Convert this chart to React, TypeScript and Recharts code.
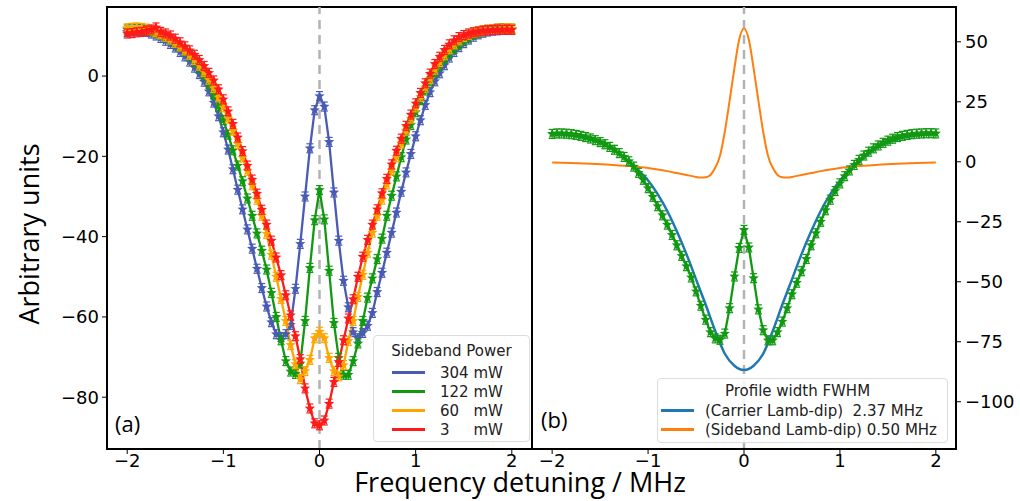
import { LineChart, Line, XAxis, YAxis, ReferenceLine, ReferenceArea } from 'recharts';

// detuning grid of the measured profiles (MHz)
const detuning = [
  -2, -1.95, -1.9, -1.85, -1.8, -1.75, -1.7, -1.65, -1.6, -1.55, -1.5, -1.45, -1.4, -1.35, -1.3, -1.25, -1.2, -1.15, -1.1, -1.05,
  -1, -0.95, -0.9, -0.85, -0.8, -0.75, -0.7, -0.65, -0.6, -0.55, -0.5, -0.45, -0.4, -0.35, -0.3, -0.25, -0.2, -0.15, -0.1, -0.05,
  0, 0.05, 0.1, 0.15, 0.2, 0.25, 0.3, 0.35, 0.4, 0.45, 0.5, 0.55, 0.6, 0.65, 0.7, 0.75, 0.8, 0.85, 0.9, 0.95,
  1, 1.05, 1.1, 1.15, 1.2, 1.25, 1.3, 1.35, 1.4, 1.45, 1.5, 1.55, 1.6, 1.65, 1.7, 1.75, 1.8, 1.85, 1.9, 1.95, 2,
];

const p304 = [
  11.0, 11.2, 11.3, 11.2, 11.0, 10.6, 10.1, 9.5, 8.8, 8.0, 7.1, 6.0, 4.9, 3.6, 2.1, 0.5, -1.4, -3.8, -6.6, -10.0,
  -14.0, -18.3, -23.2, -28.3, -33.2, -38.2, -43.0, -48.0, -52.8, -57.4, -61.3, -64.3, -65.0, -64.3, -62.0, -53.0, -41.8, -30.0, -18.0, -8.5,
  -5.0, -7.6, -16.4, -29.0, -41.0, -51.0, -57.6, -63.8, -65.3, -64.0, -62.2, -59.0, -53.8, -49.0, -44.0, -39.0, -34.0, -28.8, -24.0, -19.4,
  -15.0, -11.0, -7.2, -4.0, -1.3, 0.7, 2.7, 4.6, 6.0, 7.2, 8.2, 9.1, 9.8, 10.4, 10.8, 11.1, 11.3, 11.4, 11.5, 11.5, 11.6,
];

const p122 = [
  11.6, 11.8, 11.8, 11.7, 11.5, 11.2, 10.8, 10.3, 9.7, 9.0, 8.2, 7.3, 6.2, 5.0, 3.6, 2.0, 0.2, -2.0, -4.6, -7.5,
  -11.0, -14.6, -18.5, -22.3, -26.2, -30.5, -34.8, -39.2, -43.5, -48.2, -54.0, -60.0, -65.8, -71.0, -73.6, -74.2, -71.6, -61.0, -47.8, -35.9,
  -28.4, -35.7, -48.5, -61.5, -70.2, -74.4, -74.4, -71.0, -66.6, -61.0, -55.2, -50.4, -45.6, -40.5, -34.8, -29.8, -25.0, -20.2, -15.8, -12.2,
  -9.0, -6.0, -3.6, -1.3, 0.8, 2.6, 4.2, 5.6, 6.8, 7.9, 8.8, 9.6, 10.3, 10.8, 11.2, 11.5, 11.7, 11.8, 11.9, 11.9, 11.8,
];

const p60 = [
  11.9, 12.0, 12.1, 12.0, 11.8, 11.4, 10.9, 10.4, 9.8, 9.1, 8.3, 7.4, 6.4, 5.3, 4.0, 2.6, 1.0, -0.9, -3.0, -5.3,
  -7.8, -10.6, -13.6, -16.9, -20.3, -23.6, -27.2, -30.8, -34.8, -39.3, -44.5, -50.0, -55.5, -61.0, -67.0, -71.8, -75.5, -73.5, -70.7, -65.3,
  -63.7, -65.3, -70.2, -73.5, -74.8, -72.0, -66.0, -61.0, -55.0, -49.5, -44.0, -39.0, -34.8, -30.8, -27.0, -23.5, -20.2, -16.8, -13.6, -10.6,
  -7.8, -5.2, -2.9, -0.7, 1.6, 3.5, 5.2, 6.7, 7.9, 8.9, 9.7, 10.3, 10.8, 11.1, 11.4, 11.6, 11.7, 11.8, 11.8, 11.9, 11.8,
];

const p3 = [
  10.6, 10.7, 10.9, 11.0, 11.3, 11.6, 12.1, 11.0, 10.6, 10.1, 9.3, 8.4, 7.4, 6.4, 5.3, 4.0, 2.5, 0.8, -1.1, -3.3,
  -5.8, -8.8, -11.9, -15.3, -18.7, -22.3, -25.8, -29.3, -33.3, -37.0, -41.0, -45.2, -49.6, -54.6, -59.6, -64.8, -70.5, -77.8, -82.8, -86.5,
  -87.0, -85.8, -81.6, -76.2, -71.2, -65.8, -60.4, -55.6, -50.0, -45.0, -40.8, -37.0, -33.2, -29.2, -25.6, -22.0, -18.6, -15.6, -12.4, -9.6,
  -6.8, -4.2, -1.8, 0.6, 3.0, 4.8, 6.5, 7.9, 8.9, 9.7, 10.2, 10.6, 10.9, 11.1, 11.3, 11.4, 11.5, 11.6, 11.5, 11.6, 11.5,
];

// fitted profiles, panel (b)
const fitX = [
  -2, -1.9, -1.8, -1.7, -1.6, -1.5, -1.4, -1.3, -1.2, -1.1, -1, -0.9, -0.8, -0.7, -0.6, -0.5, -0.4, -0.3, -0.2, -0.1,
  0, 0.1, 0.2, 0.3, 0.4, 0.5, 0.6, 0.7, 0.8, 0.9, 1, 1.1, 1.2, 1.3, 1.4, 1.5, 1.6, 1.7, 1.8, 1.9, 2,
];
const carrierFit = [
  11.8, 11.5, 11.0, 10.4, 9.4, 8.0, 6.2, 3.4, 0.0, -3.6, -7.8, -13.5, -20.5, -29.0, -38.5, -49.0, -59.5, -70.5, -80.0, -85.0,
  -86.8, -85.0, -80.0, -70.5, -59.5, -49.0, -38.5, -29.0, -20.5, -13.5, -7.8, -3.6, 0.0, 3.4, 6.2, 8.0, 9.4, 10.4, 11.0, 11.5, 11.8,
];

const sideX = [
  -2, -1.8, -1.6, -1.4, -1.2, -1, -0.9, -0.8, -0.7, -0.6, -0.5, -0.45, -0.4, -0.35, -0.3, -0.25, -0.2, -0.15, -0.1, -0.05,
  0, 0.05, 0.1, 0.15, 0.2, 0.25, 0.3, 0.35, 0.4, 0.45, 0.5, 0.6, 0.7, 0.8, 0.9, 1, 1.2, 1.4, 1.6, 1.8, 2,
];
const sidebandFit = [
  -0.3, -0.5, -0.8, -1.2, -1.8, -2.6, -3.2, -3.9, -4.7, -5.5, -6.3, -6.6, -6.5, -5.5, -2.5, 2.5, 12.5, 25.5, 39, 51,
  55.5, 51, 39, 25.5, 12.5, 2.5, -2.5, -5.5, -6.5, -6.6, -6.3, -5.5, -4.7, -3.9, -3.2, -2.6, -1.8, -1.2, -0.8, -0.5, -0.3,
];

const xTicks = [-2, -1, 0, 1, 2];
const leftTicks = [-80, -60, -40, -20, 0];
const rightTicks = [-100, -75, -50, -25, 0, 25, 50];

const series = [
  { key: 'p304', label: '304 mW', color: '#4a5bb5' },
  { key: 'p122', label: '122 mW', color: '#119911' },
  { key: 'p60', label: '60   mW', color: '#ffa500' },
  { key: 'p3', label: '3     mW', color: '#ff1a1a' },
];

const rows = detuning.map((x, i) => ({ x, p304: p304[i], p122: p122[i], p60: p60[i], p3: p3[i] }));
const carrierRows = fitX.map((x, i) => ({ x, y: carrierFit[i] }));
const sideRows = sideX.map((x, i) => ({ x, y: sidebandFit[i] }));

const tickFont = { fill: '#000', fontSize: 18, fontFamily: 'DejaVu Sans' };
const frame = { stroke: '#000', strokeWidth: 2 };
const xDomain: [number, number] = [-2.21, 2.21];
const leftDomain: [number, number] = [-92.9, 17.2];
const rightDomain: [number, number] = [-119.7, 64.5];
const minus = (v: number) => String(v).replace('-', '\u2212');

function StarDot(props: any) {
  const { cx, cy, stroke } = props;
  if (cx == null || cy == null) return null;
  const pts: string[] = [];
  for (let i = 0; i < 10; i++) {
    const r = i % 2 === 0 ? 5.4 : 2.4;
    const a = -Math.PI / 2 + (i * Math.PI) / 5;
    pts.push(`${cx + r * Math.cos(a)},${cy + r * Math.sin(a)}`);
  }
  return (
    <g>
      <line x1={cx} x2={cx} y1={cy - 4.5} y2={cy + 4.5} stroke={stroke} strokeWidth={1.2} />
      <line x1={cx - 3.5} x2={cx + 3.5} y1={cy - 4.5} y2={cy - 4.5} stroke={stroke} strokeWidth={1.2} />
      <line x1={cx - 3.5} x2={cx + 3.5} y1={cy + 4.5} y2={cy + 4.5} stroke={stroke} strokeWidth={1.2} />
      <polygon points={pts.join(' ')} fill={stroke} />
    </g>
  );
}

const legendBox: React.CSSProperties = {
  position: 'absolute', border: '1px solid #dcdcdc', borderRadius: 4, background: 'rgba(255,255,255,0.85)',
  fontFamily: 'DejaVu Sans', fontSize: 15, color: '#222', boxSizing: 'border-box',
};

function LegendRow({ color, label, indent, gap }: { color: string; label: string; indent: number; gap: number }) {
  return (
    <div style={{ display: 'flex', alignItems: 'center', height: 19 }}>
      <div style={{ width: 33, height: 3, background: color, marginLeft: indent, marginRight: gap }} />
      <span style={{ whiteSpace: 'pre' }}>{label}</span>
    </div>
  );
}

export default function App() {
  return (
    <div style={{ position: 'absolute', left: 0, top: 0, width: 1020, height: 501, background: '#fff', overflow: 'hidden' }}>
      <div style={{ position: 'absolute', left: 0, top: 0 }}>
        <LineChart width={540} height={501} data={rows} margin={{ top: 7, right: 8, bottom: 22, left: 47 }}>
          <XAxis dataKey="x" type="number" domain={xDomain} ticks={xTicks} allowDataOverflow
            tick={tickFont} tickSize={5} tickMargin={0} height={30} axisLine={frame} tickLine={{ stroke: '#000' }}
            tickFormatter={minus} />
          <YAxis type="number" domain={leftDomain} ticks={leftTicks} allowDataOverflow width={60}
            tick={tickFont} tickSize={5} tickMargin={3} axisLine={frame} tickLine={{ stroke: '#000' }}
            tickFormatter={minus} />
          <ReferenceArea x1={xDomain[0]} x2={xDomain[1]} y1={leftDomain[0]} y2={leftDomain[1]}
            fill="none" fillOpacity={0} stroke="#000" strokeWidth={2} ifOverflow="visible" />
          <ReferenceLine x={0} stroke="#b3b3b3" strokeWidth={2.5} strokeDasharray="9 6" />
          {series.map(s => (
            <Line key={s.key} type="linear" dataKey={s.key} stroke={s.color} strokeWidth={2.3}
              dot={<StarDot />} activeDot={false} isAnimationActive={false} />
          ))}
        </LineChart>
      </div>
      <div style={{ position: 'absolute', left: 480, top: 0 }}>
        <LineChart width={540} height={501} margin={{ top: 7, right: 4, bottom: 22, left: 52 }}>
          <XAxis dataKey="x" type="number" domain={xDomain} ticks={xTicks} allowDataOverflow
            tick={tickFont} tickSize={5} tickMargin={0} height={30} axisLine={frame} tickLine={{ stroke: '#000' }}
            tickFormatter={minus} />
          <YAxis orientation="right" type="number" domain={rightDomain} ticks={rightTicks} allowDataOverflow width={60}
            tick={{ ...tickFont, textAnchor: 'start' }} tickSize={5} tickMargin={4} axisLine={frame} tickLine={{ stroke: '#000' }}
            tickFormatter={minus} />
          <ReferenceArea x1={xDomain[0]} x2={xDomain[1]} y1={rightDomain[0]} y2={rightDomain[1]}
            fill="none" fillOpacity={0} stroke="#000" strokeWidth={2} ifOverflow="visible" />
          <ReferenceLine x={0} stroke="#b3b3b3" strokeWidth={2.5} strokeDasharray="9 6" />
          <Line data={carrierRows} type="monotone" dataKey="y" stroke="#1f77b4" strokeWidth={2.5} dot={false} activeDot={false} isAnimationActive={false} />
          <Line data={rows} type="linear" dataKey="p122" stroke="#119911" strokeWidth={2.3} dot={<StarDot />} activeDot={false} isAnimationActive={false} />
          <Line data={sideRows} type="monotone" dataKey="y" stroke="#ff7f0e" strokeWidth={2} dot={false} activeDot={false} isAnimationActive={false} />
        </LineChart>
      </div>

      <div style={{ ...legendBox, left: 373, top: 335, width: 157, height: 107, paddingTop: 6 }}>
        <div style={{ textAlign: 'center', marginBottom: 3 }}>Sideband Power</div>
        {series.map(s => <LegendRow key={s.key} color={s.color} label={s.label} indent={18} gap={15} />)}
      </div>
      <div style={{ ...legendBox, left: 657, top: 378, width: 291, height: 65, paddingTop: 3 }}>
        <div style={{ textAlign: 'center', marginBottom: 1, paddingRight: 10 }}>Profile width FWHM</div>
        <LegendRow color="#1f77b4" label="(Carrier Lamb-dip)  2.37 MHz" indent={3} gap={11} />
        <LegendRow color="#ff7f0e" label="(Sideband Lamb-dip) 0.50 MHz" indent={3} gap={11} />
      </div>

      <div style={{ position: 'absolute', left: 115, top: 408, fontFamily: 'Open Sans', fontSize: 22 }}>(a)</div>
      <div style={{ position: 'absolute', left: 541, top: 404, fontFamily: 'Open Sans', fontSize: 22 }}>(b)</div>
      <div style={{ position: 'absolute', left: 28, top: 234, transform: 'translate(-50%, -50%) rotate(-90deg)', whiteSpace: 'nowrap', fontFamily: 'Open Sans', fontSize: 27 }}>
        Arbitrary units
      </div>
      <div style={{ position: 'absolute', left: 520, top: 475, transform: 'translateX(-50%)', whiteSpace: 'nowrap', fontFamily: 'Open Sans', fontSize: 27, lineHeight: '14px' }}>
        Frequency detuning / MHz
      </div>
    </div>
  );
}
